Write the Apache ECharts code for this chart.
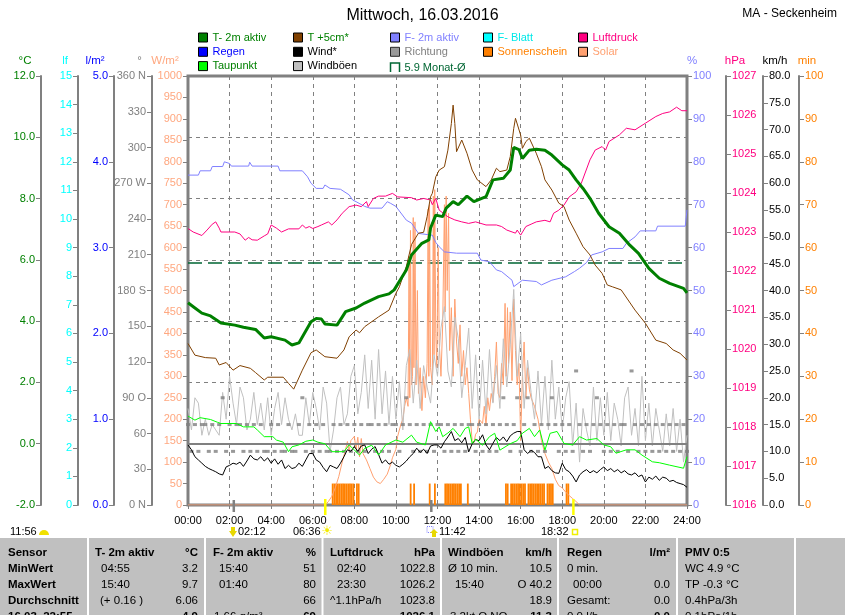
<!DOCTYPE html>
<html><head><meta charset="utf-8">
<script src="https://cdn.jsdelivr.net/npm/echarts@6/dist/echarts.min.js"></script>
<style>html,body{margin:0;padding:0;background:#fff}#c{width:845px;height:615px}</style>
</head><body><div id="c"></div>
<script>
// ---------- tick labels ----------
const xTickLabels = ['00:00','02:00','04:00','06:00','08:00','10:00','12:00','14:00','16:00','18:00','20:00','22:00','24:00'];
const dirTickLabels = ['0 N','30','60','90 O','120','150','180 S','210','240','270 W','300','330','360 N'];

// ---------- series values (time, value) ----------
const t2m = [['00:00',4.6],['00:20',4.43],['00:40',4.26],['01:05',4.17],['01:35',3.94],['02:15',3.87],['02:40',3.8],['03:15',3.73],['03:40',3.45],['04:00',3.49],['04:40',3.38],['05:00',3.22],['05:20',3.29],['05:55',3.98],['06:10',4.09],['06:25',4.07],['06:35',3.91],['07:10',3.87],['07:35',4.31],['08:05',4.43],['08:30',4.59],['09:10',4.8],['09:40',4.89],['09:55',5.02],['10:30',5.67],['10:45',6.16],['11:15',6.54],['11:35',6.65],['11:40',7.04],['11:55',7.46],['12:15',7.41],['12:25',7.69],['12:45',7.9],['13:00',7.8],['13:25',8.08],['13:45',7.9],['14:20',8.06],['14:40',8.61],['15:10',8.66],['15:30',8.93],['15:40',9.67],['15:55',9.6],['16:05',9.31],['16:25',9.58],['16:45',9.61],['17:10',9.58],['17:30',9.42],['18:00',9.1],['18:20',8.93],['18:40',8.61],['19:00',8.33],['19:20',8.01],['19:45',7.52],['20:15',7.08],['20:45',6.87],['21:15',6.48],['21:40',6.21],['22:10',5.72],['22:40',5.4],['23:10',5.23],['23:50',5.07],['24:00',4.92]];

const t5cm = [['00:00',3.27],['00:20',2.89],['00:50',2.81],['01:20',2.79],['01:30',2.57],['01:50',2.65],['02:10',2.4],['02:30',2.55],['03:00',2.46],['03:15',2.32],['03:40',2.08],['03:50',2.17],['04:35',2.17],['04:50',1.97],['05:05',1.78],['05:30',2.4],['05:55',2.97],['06:10',3.06],['06:35',2.84],['07:10',2.79],['07:30',3.06],['07:45',3.49],['08:05',3.71],['08:15',3.62],['08:30',3.82],['09:10',4.14],['09:40',4.36],['10:00',4.91],['10:10',5.12],['10:30',5.78],['10:45',6.5],['11:05',6.87],['11:20',6.9],['11:30',7.41],['11:40',8.06],['11:45',8.17],['11:55',8.71],['12:05',8.93],['12:20',9.04],['12:30',9.58],['12:40',10.45],['12:45',11.05],['12:50',10.45],['12:55',9.53],['13:10',9.91],['13:25',9.48],['13:40',8.93],['13:55',8.61],['14:20',8.39],['14:35',8.61],['14:50',8.99],['15:00',8.88],['15:20',8.93],['15:30',9.37],['15:40',10.29],['15:45',10.62],['15:50',10.56],['16:00',10.07],['16:05',9.64],['16:15',9.86],['16:25',9.97],['16:45',9.48],['17:00',9.04],['17:10',8.61],['17:30',8.28],['17:50',7.85],['18:05',7.74],['18:20',7.3],['18:40',6.87],['19:00',6.43],['19:20',6.16],['19:35',5.83],['19:55',5.56],['20:10',5.18],['20:25',5.12],['20:50',5.02],['21:30',4.36],['22:00',3.93],['22:30',3.38],['23:00',3.27],['23:20',3.06],['23:40',2.95],['24:00',2.73]];

const dewPoint = [['00:00',0.9],['00:20',0.77],['00:35',0.85],['01:05',0.79],['01:25',0.7],['01:35',0.66],['02:20',0.66],['02:40',0.55],['03:10',0.55],['03:20',0.45],['03:40',0.23],['04:05',0.23],['04:15',0.12],['04:35',0.05],['04:50',-0.26],['05:00',-0.1],['05:20',-0.04],['05:40',0.08],['06:00',0.12],['06:15',0.05],['06:35',0.0],['06:55',-0.26],['07:30',-0.26],['07:45',-0.04],['08:15',-0.37],['08:30',-0.15],['08:50',-0.05],['09:10',-0.37],['09:30',-0.04],['10:00',0.12],['10:20',0.05],['10:45',0.28],['11:00',0.05],['11:25',-0.04],['11:40',0.72],['11:55',0.4],['12:05',0.55],['12:15',0.23],['12:30',0.35],['12:45',0.5],['13:05',0.23],['13:20',0.5],['13:30',0.55],['13:40',0.01],['13:50',0.15],['14:10',-0.05],['14:30',0.23],['14:45',0.34],['15:00',-0.21],['15:30',0.0],['15:50',0.1],['16:05',0.34],['16:25',0.5],['16:40',0.23],['16:55',0.45],['17:10',-0.21],['17:25',0.34],['17:45',0.4],['18:05',0.01],['18:30',-0.04],['18:50',0.23],['19:10',0.12],['19:40',0.17],['20:00',-0.04],['20:20',-0.1],['20:35',-0.31],['21:05',-0.2],['21:30',-0.2],['21:50',-0.37],['22:20',-0.59],['22:40',-0.62],['23:10',-0.7],['23:50',-0.8],['24:00',-0.42]];

const monthAvg = [['00:00',5.9],['24:00',5.9]];

const humidity = [['00:00',76.9],['00:30',76.9],['00:35',77.9],['01:05',77.9],['01:10',78.9],['01:40',78.9],['01:45',80.0],['02:00',79.6],['02:05',79.0],['02:55',79.0],['02:58',79.9],['03:05',79.0],['04:20',79.0],['04:25',77.9],['05:30',77.9],['05:45',76.5],['05:55',75.0],['06:10',73.8],['06:30',73.8],['06:35',74.6],['06:50',73.8],['07:20',73.6],['07:45',72.3],['07:55',71.1],['08:05',70.7],['08:30',69.6],['08:45',69.2],['09:20',69.2],['09:35',70.7],['09:45',70.3],['10:00',69.6],['10:30',66.4],['10:45',65.7],['10:55',64.5],['11:05',63.3],['11:45',62.9],['11:55',61.2],['12:05',60.2],['12:20',59.0],['12:55',58.7],['13:55',58.7],['14:05',57.1],['14:30',56.7],['14:50',54.8],['15:05',54.4],['15:35',52.4],['15:40',50.9],['16:05',52.4],['16:45',52.1],['17:00',51.3],['17:30',52.4],['18:10',53.2],['18:35',54.4],['18:50',55.2],['19:10',56.5],['19:25',58.3],['19:55',59.0],['20:15',59.8],['20:55',59.8],['21:05',61.0],['21:30',62.5],['21:45',63.9],['22:30',63.9],['22:35',65.0],['23:55',65.0],['24:00',68.8]];

const pressure = [['00:00',1023.09],['00:15',1023.0],['00:40',1022.91],['00:55',1023.05],['01:10',1023.2],['01:20',1023.26],['01:30',1023.1],['01:35',1023.0],['02:15',1023.0],['02:30',1022.95],['02:45',1022.79],['02:55',1022.86],['03:05',1022.8],['03:20',1022.79],['03:40',1022.9],['03:50',1022.95],['04:00',1023.18],['04:15',1023.1],['04:30',1023.0],['04:50',1023.08],['05:20',1023.08],['05:30',1023.18],['05:40',1023.1],['05:50',1023.14],['06:00',1023.09],['06:15',1023.14],['06:25',1023.18],['06:45',1023.26],['06:55',1023.18],['07:10',1023.31],['07:25',1023.48],['07:45',1023.65],['08:05',1023.69],['08:20',1023.65],['08:35',1023.78],['08:40',1023.65],['08:55',1023.86],['09:10',1023.92],['09:30',1023.92],['09:50',1023.99],['10:05',1023.9],['10:45',1023.88],['11:00',1023.82],['11:20',1023.86],['11:40',1023.82],['11:45',1023.7],['11:55',1023.86],['12:05',1023.56],['12:30',1023.39],['12:50',1023.31],['13:10',1023.26],['13:30',1023.22],['13:50',1023.26],['14:20',1023.18],['14:50',1023.18],['15:05',1023.14],['15:20',1023.05],['15:45',1022.97],['15:50',1023.05],['16:00',1022.92],['16:15',1023.14],['16:30',1023.2],['16:45',1023.26],['17:10',1023.3],['17:25',1023.26],['17:35',1023.48],['17:50',1023.56],['18:05',1023.69],['18:20',1023.9],['18:40',1024.03],['18:55',1024.25],['19:20',1024.85],['19:35',1025.1],['19:55',1025.19],['20:05',1025.1],['20:15',1025.32],['20:45',1025.49],['21:05',1025.66],['21:30',1025.62],['22:00',1025.79],['22:30',1025.96],['22:50',1026.04],['23:10',1026.08],['23:30',1026.2],['23:45',1026.11],['24:00',1026.11]];

const solar = [['00:00',0],['06:36',0],['06:45',8],['06:55',20],['07:05',40],['07:15',66],['07:25',100],['07:35',130],['07:40',148],['07:45',125],['07:50',150],['08:00',160],['08:05',130],['08:10',158],['08:15',112],['08:20',155],['08:25',120],['08:35',105],['08:45',85],['08:55',65],['09:05',54],['09:15',50],['09:20',52],['09:25',60],['09:35',72],['09:45',95],['09:50',110],['10:00',130],['10:05',160],['10:15',190],['10:20',200],['10:25',230],['10:30',250],['10:35',230],['10:38',580],['10:40',250],['10:42',640],['10:45',280],['10:48',300],['10:50',670],['10:52',320],['10:55',660],['10:58',280],['11:02',500],['11:05',260],['11:10',320],['11:15',220],['11:20',300],['11:25',250],['11:30',330],['11:33',690],['11:35',300],['11:37',700],['11:40',320],['11:45',280],['11:48',720],['11:50',350],['11:52',735],['11:55',400],['11:58',320],['12:02',600],['12:05',380],['12:10',300],['12:15',420],['12:20',700],['12:22',450],['12:25',720],['12:28',500],['12:32',680],['12:35',360],['12:40',460],['12:45',300],['12:50',480],['12:55',380],['13:00',330],['13:05',420],['13:10',300],['13:15',360],['13:20',280],['13:25',320],['13:30',260],['13:35',200],['13:40',150],['13:45',145],['13:50',165],['13:55',170],['14:00',200],['14:10',190],['14:15',230],['14:20',185],['14:25',250],['14:30',220],['14:35',260],['14:40',240],['14:45',300],['14:50',380],['14:55',260],['15:00',250],['15:05',330],['15:10',280],['15:15',470],['15:18',300],['15:22',460],['15:25',330],['15:30',450],['15:35',290],['15:40',480],['15:45',360],['15:50',280],['15:55',330],['16:00',150],['16:05',300],['16:10',380],['16:15',250],['16:20',320],['16:25',270],['16:30',250],['16:40',230],['16:50',200],['17:00',150],['17:10',120],['17:20',100],['17:30',85],['17:40',60],['17:50',45],['18:00',40],['18:10',30],['18:20',22],['18:30',15],['18:40',8],['18:50',0],['24:00',0]];

const sunshine = [['06:55',5],['07:00',5],['07:05',5],['07:10',5],['07:15',5],['07:20',5],['07:25',5],['07:30',5],['07:35',5],['07:40',5],['07:45',5],['07:50',5],['07:55',5],['08:05',5],['08:10',5],['10:40',5],['10:50',5],['11:35',5],['11:50',5],['12:20',5],['12:25',5],['12:30',5],['12:35',5],['12:40',5],['12:45',5],['12:50',5],['12:55',5],['13:00',5],['13:05',5],['13:25',5],['15:15',5],['15:20',5],['15:30',5],['15:35',5],['15:40',5],['15:45',5],['15:50',5],['15:55',5],['16:00',5],['16:05',5],['16:10',5],['16:20',5],['16:25',5],['16:30',5],['16:35',5],['16:40',5],['16:45',5],['16:50',5],['16:55',5],['17:00',5],['17:05',5],['17:15',5],['17:20',5],['17:25',5],['17:30',5],['18:10',5],['18:15',5]];

// 10-minute values, 00:00 .. 24:00 (one row per hour)
const windGust = [
18,14,20,19,13,16, 13,15,14,13,21,16, 24,19,15,22,20,14, 16,21,15,19,14,20,
13,18,21,15,20,16, 14,17,13,13,20,15, 21,18,14,22,19,10, 14,20,22,15,17,24,
26,17,21,28,18,27, 16,29,17,25,15,24, 16,23,14,26,29,19, 27,18,26,22,19,28,
24,33,37,25,22,35, 31,20,26,33,18,28, 16,27,17,29,19,26, 18,31,22,30,40.2,24,
32,18,27,21,16,25, 15,24,14,27,16,22, 14,20,23,11,19,8, 18,14,11,22,12,20,
13,21,12,19,16,11, 20,22,13,18,11,24, 12,19,11,18,14,10, 17,11,18,10,16,8,
13];
const wind = [
11.2,10.3,9.0,8.4,7.8,7.2, 6.8,6.5,6.2,5.8,5.6,7.1, 7.4,7.8,7.6,8.0,7.2,8.2, 9.3,8.6,8.4,9.0,8.2,8.8,
7.8,8.6,7.6,8.4,6.8,7.4, 6.8,7.0,7.8,7.2,8.4,9.6, 9.6,8.4,8.0,7.0,6.2,7.4, 7.1,6.8,7.8,9.0,10.3,10.0,
10.9,10.0,11.0,11.2,9.6,10.4, 10.9,9.4,7.8,8.4,7.6,8.0, 7.4,7.1,7.6,8.2,9.0,9.6, 10.6,9.8,10.4,9.6,11.0,11.2,
11.2,10.6,11.8,12.7,13.7,12.0, 12.4,11.6,12.6,9.9,11.4,12.2, 12.0,13.1,11.2,10.3,11.5,12.6, 12.0,12.7,11.8,12.9,13.4,13.7,
13.7,10.3,9.6,10.2,9.8,9.0, 9.0,6.8,7.2,6.4,6.0,5.9, 7.8,6.6,6.2,5.4,4.3,5.6, 6.2,6.6,6.0,6.4,6.0,6.6,
7.1,6.4,6.8,6.2,6.6,6.0, 6.4,5.8,5.6,6.0,5.3,5.6, 4.3,5.2,4.8,5.4,4.6,5.2, 5.0,4.4,4.6,4.2,4.0,3.8,
3.3];
const direction = [
67.5,45,67.5,45,67.5,67.5, 45,67.5,45,67.5,90,45, 67.5,45,67.5,67.5,45,67.5, 45,67.5,45,67.5,45,45,
67.5,45,67.5,45,45,67.5, 45,45,67.5,90,45,67.5, 45,67.5,45,67.5,45,45, 67.5,45,67.5,45,67.5,45,
67.5,45,67.5,45,67.5,67.5, 45,67.5,45,67.5,45,67.5, 67.5,45,67.5,90,67.5,45, 67.5,45,67.5,45,67.5,45,
67.5,67.5,45,67.5,45,67.5, 45,67.5,45,67.5,67.5,45, 67.5,45,67.5,45,67.5,45, 67.5,90,67.5,45,67.5,90,
45,67.5,90,45,67.5,45, 67.5,45,67.5,90,67.5,45, 67.5,45,67.5,45,112.5,67.5, 45,67.5,45,67.5,90,67.5,
45,67.5,45,67.5,45,67.5, 67.5,45,112.5,67.5,45,67.5, 45,67.5,45,67.5,45,67.5, 45,67.5,45,67.5,45,67.5,
45];

// ---------- helpers ----------
const h = s => { const p = s.split(':').map(Number); return p[0] + p[1] / 60; };
const pairs = arr => arr.map(d => [h(d[0]), d[1]]);
const tenMin = arr => arr.map((v, i) => [i / 6, v]);
const FONT = 'Liberation Sans';

const chart = echarts.init(document.getElementById('c'));

function yAxis(pos, offset, min, max, interval, color, formatter, split) {
  return {
    type: 'value', position: pos, offset: offset, min: min, max: max, interval: interval,
    axisLine: { show: true, onZero: false, lineStyle: { color: '#808080', width: 2 } },
    axisTick: { show: true, length: 5, lineStyle: { color: '#808080', width: 1 } },
    axisLabel: { color: color, fontSize: 11, fontFamily: FONT, margin: 6, formatter: formatter },
    splitLine: split ? { show: true, lineStyle: { color: '#808080', type: [4, 4], width: 1 } } : { show: false }
  };
}

const lineS = (name, data, yIdx, color, width, z, extra) => Object.assign({
  name: name, type: 'line', data: data, yAxisIndex: yIdx, showSymbol: false, symbol: 'none',
  color: color, lineStyle: { color: color, width: width }, itemStyle: { color: color },
  z: z, silent: true, animation: false
}, extra || {});

const legendBase = (left, names) => ({
  orient: 'vertical', left: left, top: 32, padding: 0, itemGap: 3.3, itemWidth: 9, itemHeight: 9,
  icon: 'rect', selectedMode: false,
  itemStyle: { borderColor: '#000', borderWidth: 1 },
  textStyle: { fontSize: 11, fontFamily: FONT },
  data: names
});

const option = {
  animation: false,
  textStyle: { fontFamily: FONT },
  title: [
    { text: 'Mittwoch, 16.03.2016', left: 'center', top: 3, textStyle: { fontSize: 16, fontWeight: 'normal', color: '#000', fontFamily: FONT } },
    { text: 'MA - Seckenheim', right: 3, top: 3, textStyle: { fontSize: 12, fontWeight: 'normal', color: '#000', fontFamily: FONT } }
  ],
  legend: [
    legendBase(198, [
      { name: 'T- 2m aktiv', textStyle: { color: '#008000' } },
      { name: 'Regen', textStyle: { color: '#0000FF' } },
      { name: 'Taupunkt', textStyle: { color: '#008000' } }]),
    legendBase(293, [
      { name: 'T +5cm*', textStyle: { color: '#008000' } },
      { name: 'Wind*', textStyle: { color: '#000' } },
      { name: 'Windböen', textStyle: { color: '#000' } }]),
    legendBase(388, [
      { name: 'F- 2m aktiv', textStyle: { color: '#8080FF' } },
      { name: 'Richtung', textStyle: { color: '#808080' } },
      { name: '5.9 Monat-Ø', textStyle: { color: '#006633' }, icon: 'path://M0,10L0,0L10,0L10,10', itemStyle: { color: 'none', borderColor: '#006633', borderWidth: 1.5 } }]),
    legendBase(483, [
      { name: 'F- Blatt', textStyle: { color: '#00E8E8' } },
      { name: 'Sonnenschein', textStyle: { color: '#FF8000' } }]),
    legendBase(578, [
      { name: 'Luftdruck', textStyle: { color: '#FF0080' } },
      { name: 'Solar', textStyle: { color: '#FFA070' } }])
  ],
  grid: { left: 188, right: 158, top: 76, bottom: 110, show: true, borderColor: '#808080', borderWidth: 3, backgroundColor: 'transparent', containLabel: false, outerBoundsMode: 'none' },
  xAxis: [
    { type: 'value', min: 0, max: 24, interval: 2, position: 'bottom',
      axisLine: { show: false }, axisTick: { show: false },
      axisLabel: { color: '#000', fontSize: 11, fontFamily: FONT, margin: 10, formatter: (v, i) => xTickLabels[i] },
      splitLine: { show: true, lineStyle: { color: '#808080', type: [4, 4], width: 1 } } },
    { type: 'value', min: 0, max: 24, interval: 2, position: 'top',
      axisLine: { show: false }, axisTick: { show: true, inside: true, length: 4, lineStyle: { color: '#808080' } },
      axisLabel: { show: false }, splitLine: { show: false } }
  ],
  yAxis: [
    yAxis('left', 147, -2, 12, 2, '#008000', v => v.toFixed(1), true),      // 0 °C
    yAxis('left', 110, 0, 15, 1, '#00FFFF', v => String(v), false),          // 1 lf
    yAxis('left', 74, 0, 5, 1, '#0000FF', v => v.toFixed(1), false),         // 2 l/m²
    yAxis('left', 36, 0, 360, 30, '#808080', (v, i) => dirTickLabels[i], false), // 3 °
    yAxis('left', 0, 0, 1000, 50, '#FFA880', v => String(v), false),         // 4 W/m²
    yAxis('right', 0, 0, 100, 10, '#8080FF', v => String(v), false),         // 5 %
    yAxis('right', 39, 1016, 1027, 1, '#FF0080', v => String(v), false),     // 6 hPa
    yAxis('right', 76, 0, 80, 5, '#000000', v => v.toFixed(1), false),       // 7 km/h
    yAxis('right', 112, 0, 100, 10, '#FF8000', v => String(v), false)        // 8 min
  ],
  series: [
    { name: 'Sonnenschein', type: 'bar', yAxisIndex: 8, barWidth: 1.8, color: '#FF8000', itemStyle: { color: '#FF8000' },
      data: sunshine.map(d => [h(d[0]) + 2.5 / 60, d[1]]), z: 1, silent: true, animation: false },
    lineS('5.9 Monat-Ø', pairs(monthAvg), 0, '#006633', 1.5, 2, {
      lineStyle: { color: '#006633', width: 1.5, type: [14, 6] },
      markLine: { silent: true, symbol: 'none', label: { show: false }, animation: false,
        lineStyle: { color: '#808080', type: 'solid', width: 2 }, data: [{ yAxis: 0 }] } }),
    lineS('Solar', pairs(solar), 4, '#FFA070', 1, 3),
    lineS('Windböen', tenMin(windGust), 7, '#C0C0C0', 1, 4),
    { name: 'Richtung', type: 'scatter', yAxisIndex: 3, data: tenMin(direction), symbol: 'rect', symbolSize: [4, 3],
      color: '#808080', itemStyle: { color: '#808080' }, z: 5, silent: true, animation: false },
    lineS('Wind*', tenMin(wind), 7, '#000000', 1, 6),
    lineS('Taupunkt', pairs(dewPoint), 0, '#00FF00', 1, 7),
    lineS('F- 2m aktiv', pairs(humidity), 5, '#8080FF', 1, 8),
    lineS('Luftdruck', pairs(pressure), 6, '#FF0080', 1, 8),
    lineS('T +5cm*', pairs(t5cm), 0, '#804000', 1, 9),
    lineS('T- 2m aktiv', pairs(t2m), 0, '#008000', 3, 10),
    lineS('Regen', [], 2, '#0000FF', 1, 5),
    lineS('F- Blatt', [], 1, '#00FFFF', 1, 5)
  ]
};
chart.setOption(option);

// ---------- annotations (text / table) ----------
const T = (x, y, s, o) => ({ type: 'text', x: x, y: y, silent: true, z: 100,
  style: { text: s, fill: (o && o.color) || '#000', font: (o && o.font) || ('11px "' + FONT + '"'),
    align: (o && o.align) || 'left', verticalAlign: 'middle' } });
const px = hours => chart.convertToPixel({ xAxisIndex: 0 }, hours);

const g = [];
// axis names
[['°C', 25, '#008000'], ['lf', 65, '#00FFFF'], ['l/m²', 95, '#0000FF'], ['°', 139.5, '#808080'], ['W/m²', 165, '#FFA880'],
 ['%', 692, '#8080FF'], ['hPa', 735, '#FF0080'], ['km/h', 775, '#000'], ['min', 807, '#FF8000']]
  .forEach(a => g.push(T(a[1], 61, a[0], { color: a[2], align: 'center', font: '11.5px "' + FONT + '"' })));

// sun / moon markers on the time axis
[[6.6, '#FFFF00', 499, 16], [18 + 32 / 60, '#FFFF00', 499, 16], [2.2, '#808080', 500, 12], [11.7, '#808080', 500, 12]]
  .forEach(m => g.push({ type: 'rect', silent: true, z: 90, shape: { x: px(m[0]) - 1.2, y: m[2], width: 2.5, height: m[3] }, style: { fill: m[1] } }));

g.push(T(10, 532, '11:56'));
g.push({ type: 'sector', silent: true, z: 100, shape: { cx: 44, cy: 535, r: 5, startAngle: Math.PI, endAngle: 2 * Math.PI }, style: { fill: '#F0E000' } });
g.push({ type: 'polygon', silent: true, z: 100, shape: { points: [[231, 527], [235, 527], [235, 531], [237, 531], [233, 537], [229, 531], [231, 531]] }, style: { fill: '#E8D800' } });
g.push(T(238, 532, '02:12'));
g.push(T(293, 532, '06:36'));
g.push(T(327, 532, '☀', { color: '#F4EC00', align: 'center', font: '13px "DejaVu Sans"' }));
g.push({ type: 'rect', silent: true, z: 100, shape: { x: 427, y: 526.5, width: 6, height: 6 }, style: { fill: 'none', stroke: '#8080FF', lineWidth: 1, lineDash: [1, 1] } });
g.push({ type: 'polygon', silent: true, z: 101, shape: { points: [[434, 529], [438, 533], [436, 533], [436, 537], [432, 537], [432, 533], [430, 533]] }, style: { fill: '#E8D800' } });
g.push(T(439, 532, '11:42'));
g.push(T(541, 532, '18:32'));
g.push({ type: 'rect', silent: true, z: 100, shape: { x: 572.5, y: 529.5, width: 5, height: 5 }, style: { fill: 'none', stroke: '#F0F000', lineWidth: 1.5 } });

// statistics table
g.push({ type: 'rect', silent: true, z: 50, shape: { x: 0, y: 538, width: 845, height: 77 }, style: { fill: '#C0C0C0' } });
[88, 205, 322.5, 441, 558, 677, 795].forEach(x =>
  g.push({ type: 'rect', silent: true, z: 51, shape: { x: x - 1, y: 538, width: 2, height: 77 }, style: { fill: '#FFFFFF' } }));
const TF = '11.5px "' + FONT + '"', TB = 'bold 11.5px "' + FONT + '"';
const rows = [553, 569, 585, 600.5, 616.5];
const tableCells = [
  // [x, row, text, bold, align]
  [8, 0, 'Sensor', 1], [8, 1, 'MinWert', 1], [8, 2, 'MaxWert', 1], [8, 3, 'Durchschnitt', 1], [8, 4, '16.03. 22:55', 1],
  [95, 0, 'T- 2m aktiv', 1], [198, 0, '°C', 1, 'right'],
  [101, 1, '04:55'], [198, 1, '3.2', 0, 'right'], [101, 2, '15:40'], [198, 2, '9.7', 0, 'right'],
  [100, 3, '(+ 0.16 )'], [198, 3, '6.06', 0, 'right'], [198, 4, '4.9', 1, 'right'],
  [213, 0, 'F- 2m aktiv', 1], [316, 0, '%', 1, 'right'],
  [219, 1, '15:40'], [316, 1, '51', 0, 'right'], [219, 2, '01:40'], [316, 2, '80', 0, 'right'],
  [316, 3, '66', 0, 'right'], [214, 4, '1.66 g/m³'], [316, 4, '69', 1, 'right'],
  [330, 0, 'Luftdruck', 1], [435, 0, 'hPa', 1, 'right'],
  [337, 1, '02:40'], [435, 1, '1022.8', 0, 'right'], [337, 2, '23:30'], [435, 2, '1026.2', 0, 'right'],
  [330, 3, '^1.1hPa/h'], [435, 3, '1023.8', 0, 'right'], [435, 4, '1026.1', 1, 'right'],
  [448, 0, 'Windböen', 1], [552, 0, 'km/h', 1, 'right'],
  [448, 1, 'Ø 10 min.'], [552, 1, '10.5', 0, 'right'], [455, 2, '15:40'], [552, 2, 'O 40.2', 0, 'right'],
  [552, 3, '18.9', 0, 'right'], [450, 4, '3.2kt O NO'], [552, 4, '11.3', 1, 'right'],
  [567, 0, 'Regen', 1], [670, 0, 'l/m²', 1, 'right'],
  [567, 1, '0 min.'], [573, 2, '00:00'], [670, 2, '0.0', 0, 'right'],
  [567, 3, 'Gesamt:'], [670, 3, '0.0', 0, 'right'], [567, 4, '0.0 l/h'], [670, 4, '0.0', 1, 'right'],
  [685, 0, 'PMV 0:5', 1], [685, 1, 'WC 4.9 °C'], [685, 2, 'TP -0.3 °C'], [685, 3, '0.4hPa/3h'], [685, 4, '0.1hPa/1h']
];
tableCells.forEach(c => g.push(T(c[0], rows[c[1]], c[2], { font: c[3] ? TB : TF, align: c[4] || 'left' })));

chart.setOption({ graphic: g });
</script></body></html>
